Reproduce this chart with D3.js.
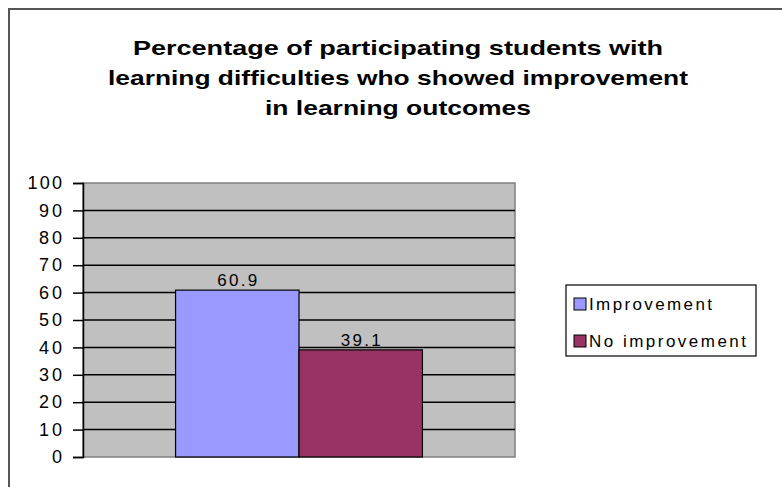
<!DOCTYPE html>
<html>
<head>
<meta charset="utf-8">
<script src="https://cdn.jsdelivr.net/npm/d3@7/dist/d3.min.js"></script>
<style>
  body { margin: 0; background: #fff; }
  svg { display: block; font-family: "Liberation Sans", Arial, sans-serif; }
</style>
</head>
<body>
<svg width="782" height="487"></svg>
<script>
"use strict";

// chart data
var categories = ["Students"];
var seriesNames = ["Improvement", "No improvement"];
var seriesValues = [60.9, 39.1];
var seriesColors = ["#9999ff", "#993366"];
var yTicks = [0, 10, 20, 30, 40, 50, 60, 70, 80, 90, 100];
var titleLines = [
  "Percentage of participating students with",
  "learning difficulties who showed improvement",
  "in learning outcomes"
];

var svg = d3.select("svg");

// outer chart frame (runs off the picture on right and bottom)
svg.append("rect")
    .attr("x", 9).attr("y", 9)
    .attr("width", 800).attr("height", 500)
    .attr("fill", "#fff")
    .attr("stroke", "#555")
    .attr("stroke-width", 2);

// title - stretched to the widths seen in the picture
var titleWidths = [530, 580, 266];
svg.append("g").selectAll("text")
    .data(titleLines)
    .enter()
      .append("text")
      .attr("x", 398)
      .attr("y", function(d, i) { return 55 + i * 30; })
      .attr("text-anchor", "middle")
      .attr("font-size", "21px")
      .attr("font-weight", "bold")
      .attr("textLength", function(d, i) { return titleWidths[i]; })
      .attr("lengthAdjust", "spacingAndGlyphs")
      .text(function(d) { return d; });

var plot = { left: 83, top: 183, right: 515, bottom: 457 };

var y = d3.scaleLinear()
    .domain([0, 100])
    .range([plot.bottom, plot.top]);

var x0 = d3.scaleBand()
    .domain(categories)
    .range([plot.left, plot.right])
    .paddingInner(0)
    .paddingOuter(0.375);

var x1 = d3.scaleBand()
    .domain(seriesNames)
    .range([0, x0.bandwidth()]);

// plot area
svg.append("rect")
    .attr("x", plot.left).attr("y", plot.top)
    .attr("width", plot.right - plot.left)
    .attr("height", plot.bottom - plot.top)
    .attr("fill", "#c0c0c0")
    .attr("stroke", "#808080")
    .attr("stroke-width", 1.5);

// gridlines
svg.append("g").selectAll("line")
    .data(yTicks.filter(function(t) { return t > 0 && t < 100; }))
    .enter()
      .append("line")
      .attr("x1", plot.left).attr("x2", plot.right)
      .attr("y1", function(d) { return y(d); })
      .attr("y2", function(d) { return y(d); })
      .attr("stroke", "#000")
      .attr("stroke-width", 1.5);

// bars
var bars = svg.append("g")
    .selectAll("g")
    .data(categories)
    .enter()
      .append("g")
      .attr("transform", function(d) { return "translate(" + x0(d) + ",0)"; });

bars.selectAll("rect")
    .data(seriesNames.map(function(n, i) { return { name: n, value: seriesValues[i], color: seriesColors[i] }; }))
    .enter()
      .append("rect")
      .attr("x", function(d) { return x1(d.name); })
      .attr("y", function(d) { return y(d.value); })
      .attr("width", x1.bandwidth())
      .attr("height", function(d) { return y(0) - y(d.value); })
      .attr("fill", function(d) { return d.color; })
      .attr("stroke", "#000")
      .attr("stroke-width", 1.2);

// value labels
bars.selectAll("text")
    .data(seriesNames.map(function(n, i) { return { name: n, value: seriesValues[i] }; }))
    .enter()
      .append("text")
      .attr("x", function(d) { return x1(d.name) + x1.bandwidth() / 2; })
      .attr("y", function(d) { return y(d.value) - 4; })
      .attr("text-anchor", "middle")
      .attr("font-size", "17px")
      .attr("textLength", 40)
      .attr("lengthAdjust", "spacing")
      .attr("fill", "#000")
      .text(function(d) { return d.value.toFixed(1); });

// y axis
var yAxis = d3.axisLeft(y)
    .tickValues(yTicks)
    .tickSize(10)
    .tickPadding(11)
    .tickFormat(d3.format("d"));

var gy = svg.append("g")
    .attr("transform", "translate(" + plot.left + ",0)")
    .call(yAxis);
gy.select(".domain").attr("stroke", "#000").attr("stroke-width", 1.5);
gy.selectAll(".tick line").attr("stroke", "#000").attr("stroke-width", 1.5);
gy.selectAll(".tick text")
    .attr("font-size", "18px")
    .attr("font-family", "Liberation Sans, Arial, sans-serif")
    .attr("textLength", function(d) { return String(d).length * 11.5; })
    .attr("lengthAdjust", "spacing")
    .attr("fill", "#000");

// legend
var legend = svg.append("g").attr("transform", "translate(566,285)");
legend.append("rect")
    .attr("width", 190).attr("height", 71)
    .attr("fill", "#fff")
    .attr("stroke", "#000")
    .attr("stroke-width", 1.2);

var legendWidths = [123, 157];
var items = legend.selectAll("g.item")
    .data(seriesNames)
    .enter()
      .append("g")
      .attr("class", "item")
      .attr("transform", function(d, i) { return "translate(8," + (13 + i * 37) + ")"; });

items.append("rect")
    .attr("width", 12).attr("height", 12)
    .attr("fill", function(d, i) { return seriesColors[i]; })
    .attr("stroke", "#000")
    .attr("stroke-width", 1);

items.append("text")
    .attr("x", 15)
    .attr("y", 12)
    .attr("font-size", "17px")
    .attr("textLength", function(d, i) { return legendWidths[i]; })
    .attr("lengthAdjust", "spacing")
    .text(function(d) { return d; });
</script>
</body>
</html>
